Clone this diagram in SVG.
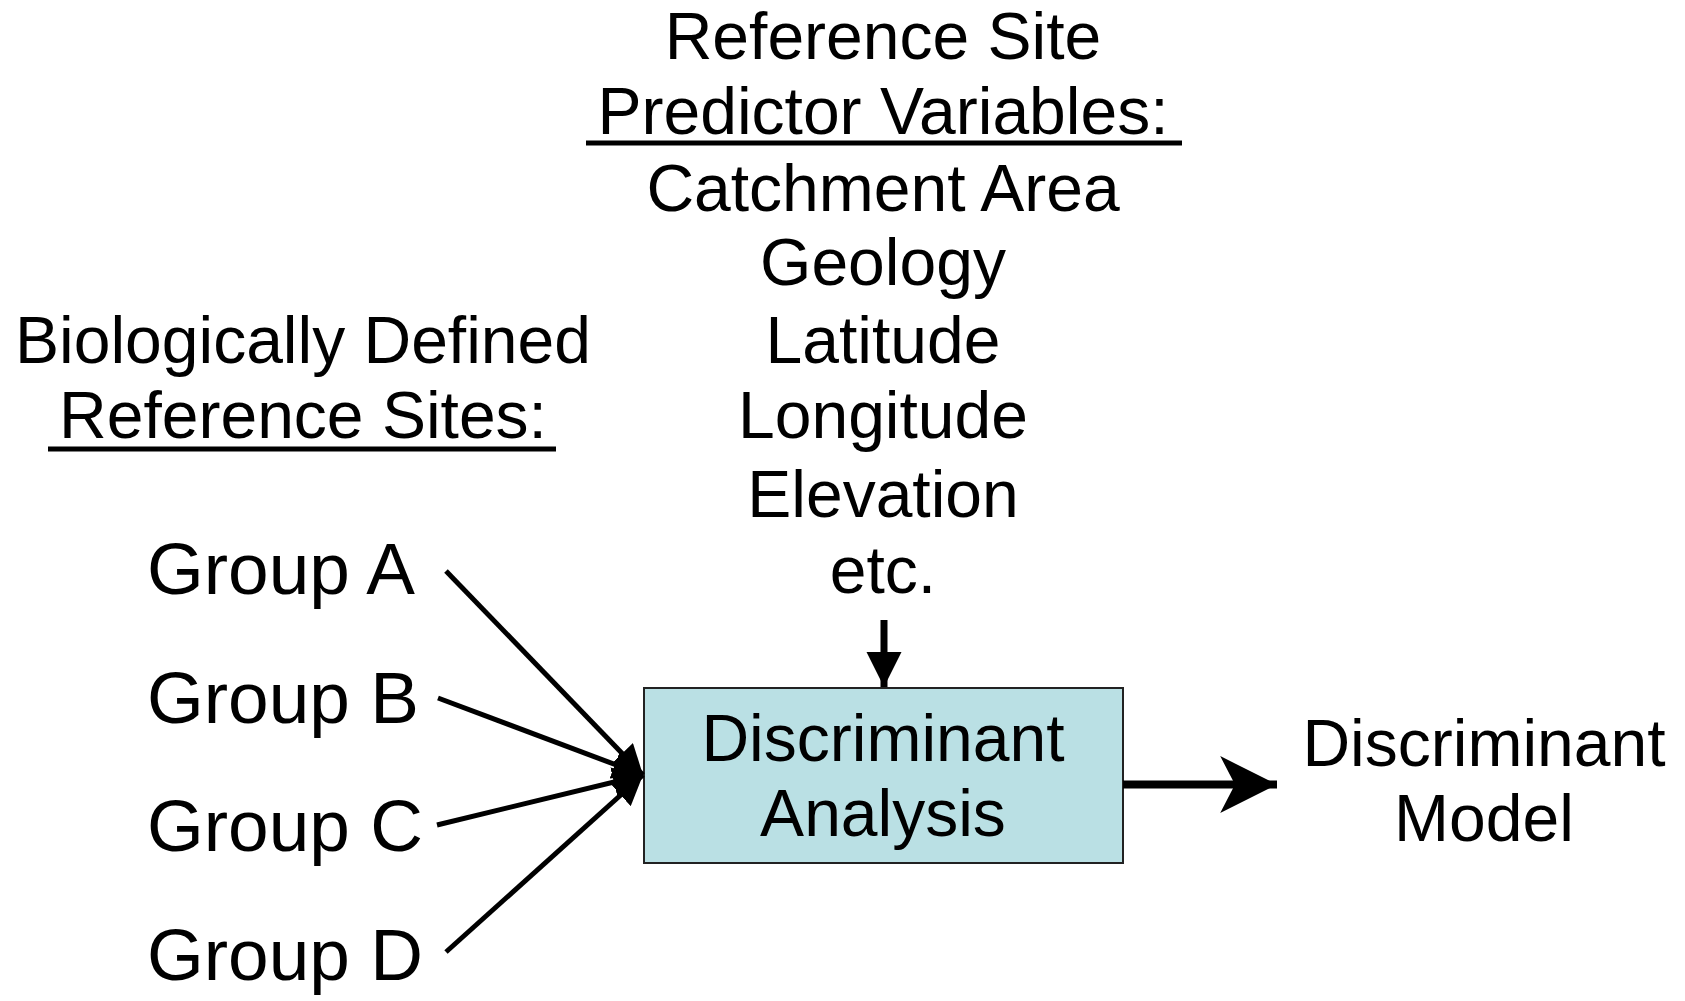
<svg xmlns="http://www.w3.org/2000/svg" width="1685" height="1001" viewBox="0 0 1685 1001">
<style>
text { font-family: "Liberation Sans", Arial, sans-serif; fill: #000; text-anchor: middle; }
.t { font-size: 66px; }
.g { font-size: 73px; text-anchor: start; }
.ul { stroke: #000; stroke-width: 5; }
.conn { stroke: #000; stroke-width: 5; fill: none; }
.down { stroke: #000; stroke-width: 7; fill: none; }
.out { stroke: #000; stroke-width: 8; fill: none; }
</style>
<defs>
<marker id="ah" viewBox="0 0 10 10" refX="10" refY="5" markerWidth="6" markerHeight="6" markerUnits="strokeWidth" orient="auto">
<path d="M0,0 L10,5 L0,10 z" fill="#000"/>
</marker>
<marker id="ahDown" viewBox="0 0 10 10" refX="10" refY="5" markerWidth="5" markerHeight="5.1" markerUnits="strokeWidth" orient="auto">
<path d="M0,0 L10,5 L0,10 z" fill="#000"/>
</marker>
<marker id="ahOut" viewBox="0 0 10 10" refX="10" refY="5" markerWidth="7.1" markerHeight="7.25" markerUnits="strokeWidth" orient="auto">
<path d="M0,0 L10,5 L0,10 L2.6,5 z" fill="#000"/>
</marker>
</defs>
<rect width="1685" height="1001" fill="#fff"/>
<g id="predictors">
<text class="t" x="883" y="59">Reference Site</text>
<text class="t" x="883" y="134">Predictor Variables:</text>
<line class="ul" x1="586" y1="143" x2="1182" y2="143"/>
<text class="t" x="883" y="211">Catchment Area</text>
<text class="t" x="883" y="285">Geology</text>
<text class="t" x="883" y="363">Latitude</text>
<text class="t" x="883" y="438">Longitude</text>
<text class="t" x="883" y="517">Elevation</text>
<text class="t" x="883" y="593">etc.</text>
</g>
<g id="ref-sites-title">
<text class="t" x="303" y="363">Biologically Defined</text>
<text class="t" x="303" y="438">Reference Sites:</text>
<line class="ul" x1="48" y1="449" x2="556" y2="449"/>
</g>
<g id="group-a"><text class="g" x="147" y="594">Group A</text></g>
<g id="group-b"><text class="g" x="147" y="723">Group B</text></g>
<g id="group-c"><text class="g" x="147" y="851">Group C</text></g>
<g id="group-d"><text class="g" x="147" y="980">Group D</text></g>
<g id="discriminant-analysis">
<rect x="644" y="688" width="479" height="175" fill="#bae0e4" stroke="#222" stroke-width="2"/>
<text class="t" x="883" y="761">Discriminant</text>
<text class="t" x="883" y="836">Analysis</text>
</g>
<g id="discriminant-model">
<text class="t" x="1484" y="766">Discriminant</text>
<text class="t" x="1484" y="841">Model</text>
</g>
<g id="connectors">
<line class="conn" x1="446" y1="571" x2="643" y2="775" marker-end="url(#ah)"/>
<line class="conn" x1="438" y1="698" x2="643" y2="775" marker-end="url(#ah)"/>
<line class="conn" x1="437" y1="825" x2="643" y2="775" marker-end="url(#ah)"/>
<line class="conn" x1="446" y1="952" x2="643" y2="775" marker-end="url(#ah)"/>
<line class="down" x1="884" y1="620" x2="884" y2="687" marker-end="url(#ahDown)"/>
<line class="out" x1="1123" y1="784.5" x2="1277" y2="784.5" marker-end="url(#ahOut)"/>
</g>
</svg>
